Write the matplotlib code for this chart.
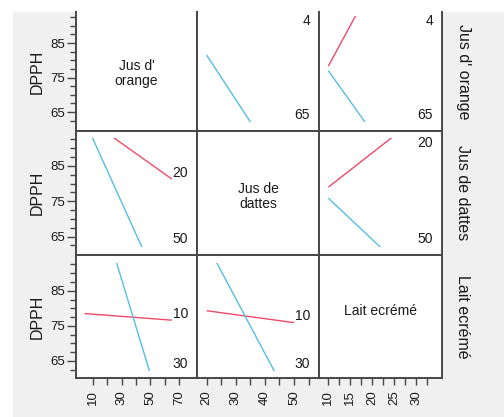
import matplotlib
matplotlib.use("Agg")
import matplotlib.pyplot as plt
from matplotlib.patches import Rectangle
import numpy as np

plt.rcParams['font.family'] = ['Liberation Sans', 'DejaVu Sans']

# ---------------- data ----------------
factor_names = ["Jus d' orange", "Jus de dattes", "Lait ecrémé"]
diag_labels = ["Jus d'\norange", "Jus de\ndattes", "Lait ecrémé"]
orange_levels = [4, 65]
dattes_levels = [20, 50]
lait_levels = [10, 30]
level_labels = [["4", "65"], ["20", "50"], ["10", "30"]]

# predicted DPPH: row factor low (red) / high (blue) vs column factor (low -> high)
r1c2_red = [98.9, 98.0]
r1c2_blue = [81.5, 42.8]
r1c3_red = [78.3, 125.3]
r1c3_blue = [77.0, 41.3]
r2c1_red = [98.9, 81.3]
r2c1_blue = [98.0, 43.3]
r2c3_red = [79.0, 98.4]
r2c3_blue = [75.9, 52.5]
r3c1_red = [78.5, 76.6]
r3c1_blue = [123.2, 41.1]
r3c2_red = [79.3, 75.9]
r3c2_blue = [98.4, 51.5]

y_major = [65, 75, 85]
x_major = [[10, 30, 50, 70], [20, 30, 40, 50], [10, 15, 20, 25, 30]]

# ---------------- layout ----------------
levels = [orange_levels, dattes_levels, lait_levels]
lines = {(0, 1): (r1c2_red, r1c2_blue), (0, 2): (r1c3_red, r1c3_blue),
         (1, 0): (r2c1_red, r2c1_blue), (1, 2): (r2c3_red, r2c3_blue),
         (2, 0): (r3c1_red, r3c1_blue), (2, 1): (r3c2_red, r3c2_blue)}

W, H = 504, 417
fig = plt.figure(figsize=(W / 100, H / 100), dpi=100)
fig.patch.set_facecolor('white')
fig.add_artist(Rectangle((13 / W, 0), (W - 13) / W, (H - 12) / H,
                         transform=fig.transFigure, facecolor='#f0f0f0',
                         edgecolor='none', zorder=0))

col_px = [76, 197, 319, 442]
row_px = [12, 131, 255, 378]
xlims = [(-1.86, 82.56), (16.67, 58.6), (7.88, 35.9)]
ylims = [(59.5, 94.0), (59.8, 94.9), (60.1, 95.2)]
x_minor = [[20, 40, 60], [25, 35, 45, 55], [12.5, 17.5, 22.5, 27.5, 32.5]]
y_minor = [62.5, 67.5, 70, 72.5, 77.5, 80, 82.5, 87.5, 90, 92.5]
diag_ypos = [0.485, 0.47, 0.545]

RED = '#ee4b6a'
BLUE = '#55bde6'
SPINE = '#474747'
TXT = '#1a1a1a'

for r in range(3):
    for c in range(3):
        x0, x1 = col_px[c], col_px[c + 1]
        y0, y1 = row_px[r], row_px[r + 1]
        ax = fig.add_axes([x0 / W, 1 - y1 / H, (x1 - x0) / W, (y1 - y0) / H])
        ax.set_facecolor('white')
        ax.set_xlim(*xlims[c])
        ax.set_ylim(*ylims[r])
        for s in ax.spines.values():
            s.set_color(SPINE)
            s.set_linewidth(1.4)
        if r == 0:
            ax.spines['top'].set_visible(False)

        # ticks
        if c == 0:
            ax.set_yticks(y_major)
            ax.set_yticks(y_minor, minor=True)
            ax.tick_params(axis='y', which='major', length=6.3, width=1, color=SPINE,
                           labelsize=9.5, pad=1.5, labelcolor=TXT)
            ax.tick_params(axis='y', which='minor', length=4.3, width=1, color=SPINE)
        else:
            ax.set_yticks([])
            ax.set_yticks([], minor=True)
        if r == 2:
            ax.set_xticks(x_major[c])
            ax.set_xticks(x_minor[c], minor=True)
            ax.set_xticklabels([str(v) for v in x_major[c]], rotation=90)
            ax.tick_params(axis='x', which='both', length=5, width=1, color=SPINE,
                           labelsize=9.5, pad=3.5, labelcolor=TXT)
        else:
            ax.set_xticks([])
            ax.set_xticks([], minor=True)

        if r == c:
            ax.text(0.5, diag_ypos[r], diag_labels[r], transform=ax.transAxes,
                    ha='center', va='center', fontsize=10, color=TXT, linespacing=1.1)
            continue

        red, blue = lines[(r, c)]
        xs = levels[c]
        xa, xb = xlims[c]
        for vals, col in ((red, RED), (blue, BLUE)):
            ln, = ax.plot(xs, vals, color=col, lw=1.0, solid_capstyle='butt')
            ln.set_clip_path(Rectangle((xa, 62.0), xb - xa, 30.8, transform=ax.transData))

        # level labels at right, placed at line end value (clamped)
        for vals, lab in ((red, level_labels[r][0]), (blue, level_labels[r][1])):
            yv = float(np.clip(vals[-1] + 1.8, 64.2, 91.5))
            ax.annotate(lab, xy=(1.0, yv), xycoords=ax.get_yaxis_transform(),
                        xytext=(-6.5, 0), textcoords='offset points',
                        ha='right', va='center', fontsize=10, color=TXT)

# axis labels
for r in range(3):
    yc = 1 - (row_px[r] + row_px[r + 1]) / 2 / H
    fig.text(37.7 / W, yc, 'DPPH', rotation=90, ha='center', va='center',
             fontsize=11.5, color=TXT)
    fig.text(463 / W, yc, factor_names[r], rotation=270, ha='center', va='center',
             fontsize=11.5, color=TXT)

fig.savefig('out.png', dpi=100)
